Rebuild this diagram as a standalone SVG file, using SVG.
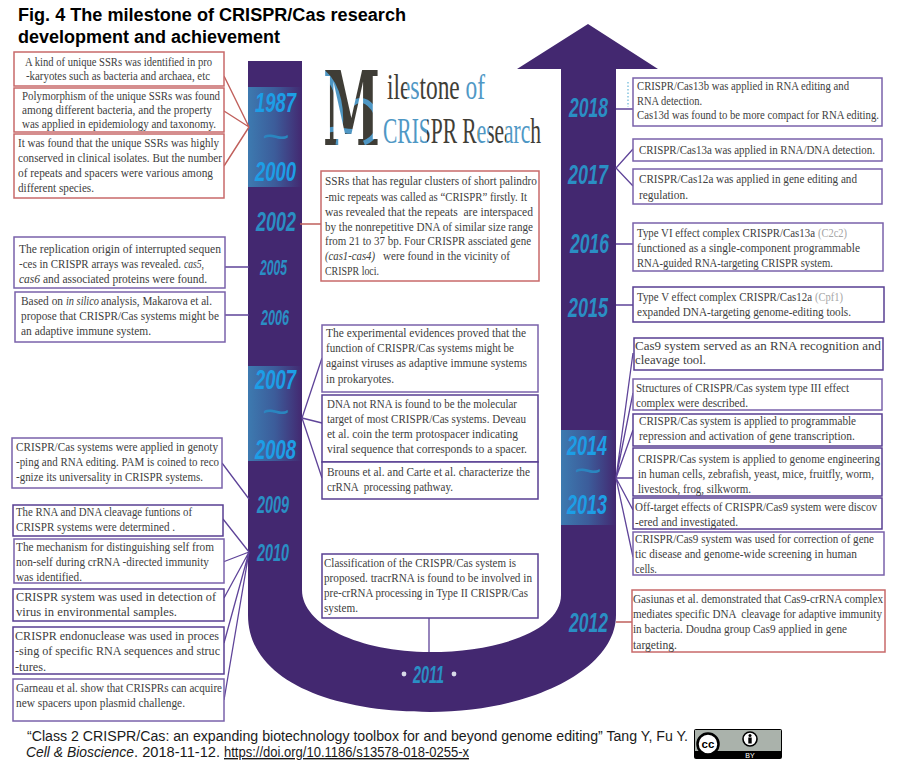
<svg xmlns="http://www.w3.org/2000/svg" width="897" height="766" viewBox="0 0 897 766">
<style>
.t{font-family:"Liberation Serif",serif;font-size:12px;fill:#404040}
.rc .t{font-size:11.5px}
.i{font-style:italic}
.t.g{fill:#a5a5a5}
.r{fill:#fff;stroke:#c8696a;stroke-width:1.5}
.p{fill:#fff;stroke:#7a62ab;stroke-width:1.5}
.d{fill:#fff;stroke:#583f92;stroke-width:1.5}
.y{font-family:"Liberation Sans",sans-serif;font-weight:bold;font-style:italic;fill:#2a8ec4}
.y.yb{fill:#1d9ee6}
.tl{font-family:"Liberation Sans",sans-serif;font-size:36px;fill:#2a86c0}
.h{font-family:"Liberation Sans",sans-serif;font-weight:bold;font-size:17.5px;fill:#000}
.f{font-family:"Liberation Sans",sans-serif;font-size:14px;fill:#1a1a1a}
.cr{stroke:#c0605c;stroke-width:1.4;fill:none}
.cp{stroke:#5f4499;stroke-width:1.3;fill:none}
.lg{font-family:"Liberation Serif",serif;font-size:36px}
</style>
<defs>
<linearGradient id="band"><stop offset="0" stop-color="#3d7ab0"/><stop offset=".5" stop-color="#3c5c9a"/><stop offset="1" stop-color="#432870"/></linearGradient>
<clipPath id="bigM"><text x="323" y="145" font-family="DejaVu Serif" font-weight="bold" font-size="102" textLength="57" lengthAdjust="spacingAndGlyphs">M</text></clipPath>
<linearGradient id="lg1" gradientUnits="userSpaceOnUse" x1="387" y1="0" x2="485" y2="0">
<stop offset=".2" stop-color="#3f3d36"/><stop offset=".2" stop-color="#4f97c4"/><stop offset=".32" stop-color="#4f97c4"/><stop offset=".32" stop-color="#3f3d36"/><stop offset=".78" stop-color="#3f3d36"/><stop offset=".78" stop-color="#4f97c4"/>
</linearGradient>
<linearGradient id="lg2" gradientUnits="userSpaceOnUse" x1="383" y1="0" x2="541" y2="0">
<stop offset=".28" stop-color="#4f97c4"/><stop offset=".28" stop-color="#3f3d36"/><stop offset=".6" stop-color="#3f3d36"/><stop offset=".6" stop-color="#4f97c4"/><stop offset=".67" stop-color="#4f97c4"/><stop offset=".67" stop-color="#3f3d36"/><stop offset=".78" stop-color="#3f3d36"/><stop offset=".78" stop-color="#4f97c4"/><stop offset=".93" stop-color="#4f97c4"/><stop offset=".93" stop-color="#3f3d36"/>
</linearGradient>
</defs>

<g id="timeline">
<path fill="#432870" d="M248 61H302V590C302 625 360 652 430 652C500 652 561 630 561 595V69H517L588 24L658 69H616V615C616 670 530 712 430 712C330 712 248 680 248 615Z"/>
<rect x="248" y="87" width="54" height="100" fill="url(#band)"/>
<rect x="248" y="366" width="54" height="95" fill="url(#band)"/>
<rect x="561" y="430" width="55" height="95" fill="url(#band)"/>
</g>

<g id="title">
<text class="h" x="18" y="21" textLength="388" lengthAdjust="spacingAndGlyphs">Fig. 4 The milestone of CRISPR/Cas research</text>
<text class="h" x="18" y="43" textLength="262" lengthAdjust="spacingAndGlyphs">development and achievement</text>
</g>

<g id="logo">
<g clip-path="url(#bigM)">
<rect x="320" y="65" width="64" height="85" fill="#3f3d36"/>
<path fill="none" stroke="#4f97c4" stroke-width="5" d="M323 72C338 85 345 110 338 145M352 104C362 96 372 102 378 118C380 128 376 138 364 143M326 132C335 124 348 136 362 130"/>
</g>
<text class="lg" fill="url(#lg1)" x="387" y="99" textLength="98" lengthAdjust="spacingAndGlyphs">ilestone of</text>
<text class="lg" fill="url(#lg2)" x="383" y="143" textLength="158" lengthAdjust="spacingAndGlyphs">CRISPR Research</text>
</g>

<g id="connectors">
<path class="cr" d="M224 76L249 127M224 111L249 127M224 166L249 127M300 224H321M616 622H632"/>
<path class="cp" d="M225 267H249M225 315H249M222 463L249 499M223 519L249 552M223 562L249 552M224 598L249 552M224 643L249 552M224 700L249 552"/>
<path class="cp" d="M322 358L302 418M322 423L302 418M322 478L302 418M429 618V652"/>
<path class="cp" d="M616 109H633M633 149L616 168L633 186M616 244H633M616 305H633"/>
<path class="cp" d="M633 353L616 478M633 393L616 478M633 430L616 478M633 478H616M633 510L616 478M633 557L616 478"/>
<path fill="none" stroke="#66b5d8" stroke-width="1.2" stroke-dasharray="1.5 2" d="M628 82V107"/>
</g>

<g id="years">
<text class="y yb" x="255" y="112" font-size="27" textLength="41" lengthAdjust="spacingAndGlyphs">1987</text>
<text class="tl" x="262" y="149" textLength="28" lengthAdjust="spacingAndGlyphs">~</text>
<text class="y yb" x="255" y="181" font-size="27" textLength="41" lengthAdjust="spacingAndGlyphs">2000</text>
<text class="y" x="256" y="231" font-size="27" textLength="40" lengthAdjust="spacingAndGlyphs">2002</text>
<text class="y" x="260" y="275" font-size="22" textLength="27" lengthAdjust="spacingAndGlyphs">2005</text>
<text class="y" x="261" y="325" font-size="22" textLength="28" lengthAdjust="spacingAndGlyphs">2006</text>
<text class="y yb" x="255" y="389" font-size="27" textLength="41" lengthAdjust="spacingAndGlyphs">2007</text>
<text class="tl" x="262" y="424" textLength="28" lengthAdjust="spacingAndGlyphs">~</text>
<text class="y yb" x="255" y="459" font-size="27" textLength="41" lengthAdjust="spacingAndGlyphs">2008</text>
<text class="y" x="257" y="513" font-size="24" textLength="32" lengthAdjust="spacingAndGlyphs">2009</text>
<text class="y" x="257" y="561" font-size="24" textLength="32" lengthAdjust="spacingAndGlyphs">2010</text>
<text class="y" x="413" y="683" font-size="24" textLength="31" lengthAdjust="spacingAndGlyphs">2011</text>
<circle cx="404" cy="674" r="2.4" fill="#d8dbe8"/><circle cx="454" cy="674" r="2.4" fill="#d8dbe8"/>
<text class="y" x="569" y="632" font-size="27" textLength="39" lengthAdjust="spacingAndGlyphs">2012</text>
<text class="y yb" x="567" y="514" font-size="27" textLength="40" lengthAdjust="spacingAndGlyphs">2013</text>
<text class="tl" x="574" y="483" textLength="28" lengthAdjust="spacingAndGlyphs">~</text>
<text class="y yb" x="567" y="455" font-size="27" textLength="40" lengthAdjust="spacingAndGlyphs">2014</text>
<text class="y" x="568" y="317" font-size="27" textLength="40" lengthAdjust="spacingAndGlyphs">2015</text>
<text class="y" x="570" y="253" font-size="27" textLength="39" lengthAdjust="spacingAndGlyphs">2016</text>
<text class="y" x="568" y="184" font-size="27" textLength="40" lengthAdjust="spacingAndGlyphs">2017</text>
<text class="y" x="569" y="117" font-size="27" textLength="39" lengthAdjust="spacingAndGlyphs">2018</text>
</g>

<g id="n1"><rect class="r" x="14" y="52" width="210" height="34"/>
<text class="t" x="25" y="66" textLength="187" lengthAdjust="spacingAndGlyphs">A kind of unique SSRs was identified in pro</text>
<text class="t" x="26" y="80" textLength="184" lengthAdjust="spacingAndGlyphs">-karyotes such as bacteria and archaea, etc</text></g>
<g id="n2"><rect class="r" x="14" y="88" width="210" height="44"/>
<text class="t" x="22" y="100" textLength="198" lengthAdjust="spacingAndGlyphs">Polymorphism of the unique SSRs was found</text>
<text class="t" x="22" y="114" textLength="190" lengthAdjust="spacingAndGlyphs">among different bacteria, and the property</text>
<text class="t" x="22" y="128" textLength="194" lengthAdjust="spacingAndGlyphs">was applied in epidemiology and taxonomy.</text></g>
<g id="n3"><rect class="r" x="14" y="134" width="210" height="64"/>
<text class="t" x="18" y="147" textLength="201" lengthAdjust="spacingAndGlyphs">It was found that the unique SSRs was highly</text>
<text class="t" x="18" y="162" textLength="204" lengthAdjust="spacingAndGlyphs">conserved in clinical isolates. But the number</text>
<text class="t" x="18" y="177" textLength="195" lengthAdjust="spacingAndGlyphs">of repeats and spacers were various among</text>
<text class="t" x="18" y="192" textLength="76" lengthAdjust="spacingAndGlyphs">different species.</text></g>
<g id="n4"><rect class="p" x="14" y="237" width="211" height="51"/>
<text class="t" x="19" y="253" textLength="202" lengthAdjust="spacingAndGlyphs">The replication origin of interrupted sequen</text>
<text class="t" x="19" y="268" textLength="162" lengthAdjust="spacingAndGlyphs">-ces in CRISPR arrays was revealed.</text>
<text class="t i" x="184" y="268" textLength="20" lengthAdjust="spacingAndGlyphs">cas5,</text>
<text class="t i" x="19" y="283" textLength="21" lengthAdjust="spacingAndGlyphs">cas6</text>
<text class="t" x="43" y="283" textLength="164" lengthAdjust="spacingAndGlyphs">and associated proteins were found.</text></g>
<g id="n5"><rect class="p" x="15" y="292" width="210" height="50"/>
<text class="t" x="21" y="305" textLength="42" lengthAdjust="spacingAndGlyphs">Based on</text>
<text class="t i" x="66" y="305" textLength="33" lengthAdjust="spacingAndGlyphs">in silico</text>
<text class="t" x="101" y="305" textLength="111" lengthAdjust="spacingAndGlyphs">analysis, Makarova et al.</text>
<text class="t" x="21" y="320" textLength="198" lengthAdjust="spacingAndGlyphs">propose that CRISPR/Cas systems might be</text>
<text class="t" x="21" y="335" textLength="130" lengthAdjust="spacingAndGlyphs">an adaptive immune system.</text></g>
<g id="n6"><rect class="p" x="12" y="438" width="210" height="50"/>
<text class="t" x="16" y="451" textLength="202" lengthAdjust="spacingAndGlyphs">CRISPR/Cas systems were applied in genoty</text>
<text class="t" x="16" y="466" textLength="203" lengthAdjust="spacingAndGlyphs">-ping and RNA editing. PAM is coined to reco</text>
<text class="t" x="16" y="481" textLength="187" lengthAdjust="spacingAndGlyphs">-gnize its universality in CRISPR systems.</text></g>
<g id="n7"><rect class="d" x="13" y="505" width="210" height="31"/>
<text class="t" x="16" y="516" textLength="176" lengthAdjust="spacingAndGlyphs">The RNA and DNA cleavage funtions of</text>
<text class="t" x="16" y="531" textLength="159" lengthAdjust="spacingAndGlyphs">CRISPR systems were determined .</text></g>
<g id="n8"><rect class="p" x="14" y="539" width="210" height="44"/>
<text class="t" x="16" y="551" textLength="198" lengthAdjust="spacingAndGlyphs">The mechanism for distinguishing self from</text>
<text class="t" x="16" y="566" textLength="193" lengthAdjust="spacingAndGlyphs">non-self during crRNA -directed immunity</text>
<text class="t" x="16" y="581" textLength="66" lengthAdjust="spacingAndGlyphs">was identified.</text></g>
<g id="n9"><rect class="d" x="13" y="589" width="211" height="32"/>
<text class="t" x="16" y="601" textLength="200" lengthAdjust="spacingAndGlyphs">CRISPR system was used in detection of</text>
<text class="t" x="16" y="616" textLength="161" lengthAdjust="spacingAndGlyphs">virus in environmental samples.</text></g>
<g id="n10"><rect class="d" x="13" y="627" width="211" height="47"/>
<text class="t" x="15" y="640" textLength="204" lengthAdjust="spacingAndGlyphs">CRISPR endonuclease was used in proces</text>
<text class="t" x="15" y="655" textLength="205" lengthAdjust="spacingAndGlyphs">-sing of specific RNA sequences and struc</text>
<text class="t" x="15" y="671" textLength="31" lengthAdjust="spacingAndGlyphs">-tures.</text></g>
<g id="n11"><rect class="p" x="13" y="679" width="211" height="42"/>
<text class="t" x="16" y="692" textLength="206" lengthAdjust="spacingAndGlyphs">Garneau et al. show that CRISPRs can acquire</text>
<text class="t" x="16" y="707" textLength="169" lengthAdjust="spacingAndGlyphs">new spacers upon plasmid challenge.</text></g>

<g id="n12"><rect class="r" x="321" y="171" width="218" height="110"/>
<text class="t" x="325" y="185" textLength="212" lengthAdjust="spacingAndGlyphs">SSRs that has regular clusters of short palindro</text>
<text class="t" x="325" y="201" textLength="202" lengthAdjust="spacingAndGlyphs">-mic repeats was called as “CRISPR” firstly. It</text>
<text class="t" x="325" y="216" textLength="208" lengthAdjust="spacingAndGlyphs" xml:space="preserve">was revealed that the repeats  are interspaced</text>
<text class="t" x="325" y="231" textLength="208" lengthAdjust="spacingAndGlyphs">by the nonrepetitive DNA of similar size range</text>
<text class="t" x="325" y="245" textLength="206" lengthAdjust="spacingAndGlyphs">from 21 to 37 bp. Four CRISPR assciated gene</text>
<text class="t i" x="325" y="260" textLength="50" lengthAdjust="spacingAndGlyphs">(cas1-cas4)</text>
<text class="t" x="383" y="260" textLength="127" lengthAdjust="spacingAndGlyphs">were found in the vicinity of</text>
<text class="t" x="325" y="275" textLength="54" lengthAdjust="spacingAndGlyphs">CRISPR loci.</text></g>
<g id="n13"><rect class="p" x="322" y="325" width="216" height="67"/>
<text class="t" x="326" y="337" textLength="200" lengthAdjust="spacingAndGlyphs">The experimental evidences proved that the</text>
<text class="t" x="326" y="352" textLength="188" lengthAdjust="spacingAndGlyphs">function of CRISPR/Cas systems might be</text>
<text class="t" x="326" y="367" textLength="201" lengthAdjust="spacingAndGlyphs">against viruses as adaptive immune systems</text>
<text class="t" x="326" y="383" textLength="68" lengthAdjust="spacingAndGlyphs">in prokaryotes.</text></g>
<g id="n14"><rect class="d" x="322" y="395" width="216" height="67"/>
<text class="t" x="327" y="408" textLength="190" lengthAdjust="spacingAndGlyphs">DNA not RNA is found to be the molecular</text>
<text class="t" x="327" y="423" textLength="199" lengthAdjust="spacingAndGlyphs">target of most CRISPR/Cas systems. Deveau</text>
<text class="t" x="327" y="438" textLength="191" lengthAdjust="spacingAndGlyphs">et al. coin the term protospacer indicating</text>
<text class="t" x="327" y="453" textLength="200" lengthAdjust="spacingAndGlyphs">viral sequence that corresponds to a spacer.</text></g>
<g id="n15"><rect class="d" x="322" y="462" width="216" height="37"/>
<text class="t" x="327" y="476" textLength="203" lengthAdjust="spacingAndGlyphs">Brouns et al. and Carte et al. characterize the</text>
<text class="t" x="327" y="491" textLength="126" lengthAdjust="spacingAndGlyphs" xml:space="preserve">crRNA  processing pathway.</text></g>
<g id="n16"><rect class="d" x="322" y="554" width="216" height="64"/>
<text class="t" x="324" y="567" textLength="192" lengthAdjust="spacingAndGlyphs">Classification of the CRISPR/Cas system is</text>
<text class="t" x="324" y="582" textLength="208" lengthAdjust="spacingAndGlyphs">proposed. tracrRNA is found to be involved in</text>
<text class="t" x="324" y="597" textLength="204" lengthAdjust="spacingAndGlyphs">pre-crRNA processing in Type II CRISPR/Cas</text>
<text class="t" x="324" y="612" textLength="34" lengthAdjust="spacingAndGlyphs">system.</text></g>

<g class="rc">
<g id="n17"><rect class="p" x="633" y="78" width="249" height="48"/>
<text class="t" x="637" y="90" textLength="212" lengthAdjust="spacingAndGlyphs">CRISPR/Cas13b was applied in RNA editing and</text>
<text class="t" x="637" y="105" textLength="65" lengthAdjust="spacingAndGlyphs">RNA detection.</text>
<text class="t" x="637" y="119" textLength="242" lengthAdjust="spacingAndGlyphs">Cas13d was found to be more compact for RNA editing.</text></g>
<g id="n18"><rect class="p" x="633" y="139" width="249" height="22"/>
<text class="t" x="639" y="154" textLength="236" lengthAdjust="spacingAndGlyphs">CRISPR/Cas13a was applied in RNA/DNA detection.</text></g>
<g id="n19"><rect class="p" x="633" y="169" width="249" height="35"/>
<text class="t" x="639" y="183" textLength="218" lengthAdjust="spacingAndGlyphs">CRISPR/Cas12a was applied in gene editing and</text>
<text class="t" x="639" y="199" textLength="49" lengthAdjust="spacingAndGlyphs">regulation.</text></g>
<g id="n20"><rect class="p" x="633" y="223" width="250" height="48"/>
<text class="t" x="637" y="237" textLength="178" lengthAdjust="spacingAndGlyphs">Type VI effect complex CRISPR/Cas13a</text>
<text class="t g" x="818" y="237" textLength="29" lengthAdjust="spacingAndGlyphs">(C2c2)</text>
<text class="t" x="637" y="252" textLength="223" lengthAdjust="spacingAndGlyphs">functioned as a single-component programmable</text>
<text class="t" x="637" y="267" textLength="196" lengthAdjust="spacingAndGlyphs">RNA-guided RNA-targeting CRISPR system.</text></g>
<g id="n21"><rect class="d" x="633" y="287" width="251" height="35"/>
<text class="t" x="637" y="301" textLength="175" lengthAdjust="spacingAndGlyphs">Type V effect complex CRISPR/Cas12a</text>
<text class="t g" x="815" y="301" textLength="28" lengthAdjust="spacingAndGlyphs">(Cpf1)</text>
<text class="t" x="637" y="316" textLength="214" lengthAdjust="spacingAndGlyphs">expanded DNA-targeting genome-editing tools.</text></g>
<g id="n22"><rect class="d" x="634" y="338" width="249" height="32"/>
<text class="t" x="635" y="350" textLength="246" lengthAdjust="spacingAndGlyphs">Cas9 system served as an RNA recognition and</text>
<text class="t" x="635" y="364" textLength="71" lengthAdjust="spacingAndGlyphs">cleavage tool.</text></g>
<g id="n23"><rect class="p" x="633" y="379" width="249" height="31"/>
<text class="t" x="636" y="392" textLength="213" lengthAdjust="spacingAndGlyphs">Structures of CRISPR/Cas system type III effect</text>
<text class="t" x="636" y="407" textLength="112" lengthAdjust="spacingAndGlyphs">complex were described.</text></g>
<g id="n24"><rect class="d" x="633" y="414" width="249" height="32"/>
<text class="t" x="639" y="425" textLength="217" lengthAdjust="spacingAndGlyphs">CRISPR/Cas system is applied to programmable</text>
<text class="t" x="639" y="440" textLength="216" lengthAdjust="spacingAndGlyphs">repression and activation of gene transcription.</text></g>
<g id="n25"><rect class="d" x="633" y="448" width="249" height="48"/>
<text class="t" x="638" y="463" textLength="242" lengthAdjust="spacingAndGlyphs">CRISPR/Cas system is applied to genome engineering</text>
<text class="t" x="638" y="478" textLength="236" lengthAdjust="spacingAndGlyphs">in human cells, zebrafish, yeast, mice, fruitfly, worm,</text>
<text class="t" x="638" y="493" textLength="113" lengthAdjust="spacingAndGlyphs">livestock, frog, silkworm.</text></g>
<g id="n26"><rect class="d" x="633" y="498" width="249" height="31"/>
<text class="t" x="635" y="511" textLength="242" lengthAdjust="spacingAndGlyphs">Off-target effects of CRISPR/Cas9 system were discov</text>
<text class="t" x="635" y="526" textLength="103" lengthAdjust="spacingAndGlyphs">-ered and investigated.</text></g>
<g id="n27"><rect class="p" x="633" y="532" width="251" height="43"/>
<text class="t" x="635" y="543" textLength="239" lengthAdjust="spacingAndGlyphs">CRISPR/Cas9 system was used for correction of gene</text>
<text class="t" x="635" y="558" textLength="222" lengthAdjust="spacingAndGlyphs">tic disease and genome-wide screening in human</text>
<text class="t" x="635" y="573" textLength="22" lengthAdjust="spacingAndGlyphs">cells.</text></g>
<g id="n28"><rect class="r" x="632" y="590" width="253" height="62"/>
<text class="t" x="633" y="603" textLength="250" lengthAdjust="spacingAndGlyphs">Gasiunas et al. demonstrated that Cas9-crRNA complex</text>
<text class="t" x="633" y="618" textLength="249" lengthAdjust="spacingAndGlyphs" xml:space="preserve">mediates specific DNA  cleavage for adaptive immunity</text>
<text class="t" x="633" y="633" textLength="214" lengthAdjust="spacingAndGlyphs">in bacteria. Doudna group Cas9 applied in gene</text>
<text class="t" x="633" y="649" textLength="44" lengthAdjust="spacingAndGlyphs">targeting.</text></g>
</g>

<g id="citation">
<text class="f" x="27" y="741" textLength="661" lengthAdjust="spacingAndGlyphs">“Class 2 CRISPR/Cas: an expanding biotechnology toolbox for and beyond genome editing” Tang Y, Fu Y.</text>
<text class="f i" x="26" y="757" textLength="108" lengthAdjust="spacingAndGlyphs">Cell &amp; Bioscience</text>
<text class="f" x="134" y="757" textLength="86" lengthAdjust="spacingAndGlyphs">. 2018-11-12.</text>
<text class="f" x="224" y="757" textLength="245" lengthAdjust="spacingAndGlyphs" text-decoration="underline">https://doi.org/10.1186/s13578-018-0255-x</text>
</g>

<g id="cc-badge">
<rect x="694" y="729" width="88" height="30" rx="2" fill="#000"/>
<rect x="695" y="730" width="86" height="21" fill="#aab2ab"/>
<circle cx="708" cy="744" r="10.5" fill="#fff" stroke="#000" stroke-width="2.5"/>
<text x="708" y="748" text-anchor="middle" font-family="Liberation Sans,sans-serif" font-weight="bold" font-size="11.5" fill="#000">cc</text>
<circle cx="750" cy="739" r="7" fill="#fff" stroke="#000" stroke-width="1.6"/>
<circle cx="750" cy="735.5" r="1.5" fill="#000"/>
<rect x="748.3" y="737.5" width="3.4" height="6" fill="#000"/>
<text x="750" y="758" text-anchor="middle" font-family="Liberation Sans,sans-serif" font-size="7" fill="#fff">BY</text>
</g>
</svg>
